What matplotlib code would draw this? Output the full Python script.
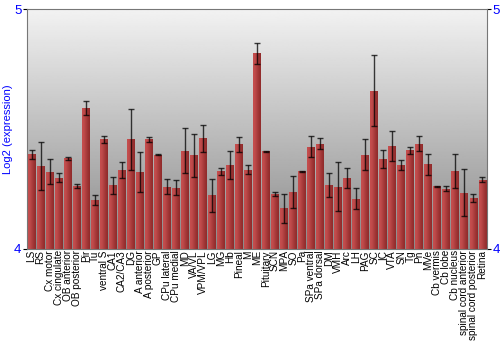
import matplotlib
matplotlib.use("Agg")
import matplotlib.pyplot as plt
import numpy as np

regions = [
    "LS", "RS", "Cx motor", "Cx cingulate", "OB anterior", "OB posterior",
    "Pir", "Tu", "ventral S", "CA1", "CA2/CA3", "DG", "A anterior",
    "A posterior", "GP", "CPu lateral", "CPu medial", "MD", "VA/VL",
    "VPM/VPL", "LG", "MG", "Hb", "Pineal", "M", "ME", "Pituitary", "SCN",
    "MPA", "SO", "Pa", "SPa ventral", "SPa dorsal", "DM", "VMH", "Arc", "LH",
    "PAG", "SC", "IC", "VTA", "SN", "Tg", "Pn", "MVe", "Cb vermis", "Cb lobe",
    "Cb nucleus", "spinal cord anterior", "spinal cord posterior", "Retina",
]
expression = [
    4.395, 4.345, 4.323, 4.298, 4.378, 4.262,
    4.589, 4.204, 4.457, 4.266, 4.330, 4.457, 4.320,
    4.457, 4.393, 4.260, 4.256, 4.410, 4.390,
    4.461, 4.224, 4.324, 4.350, 4.436, 4.330, 4.817, 4.407, 4.229,
    4.169, 4.238, 4.325, 4.427, 4.440, 4.265, 4.259, 4.295, 4.210,
    4.393, 4.661, 4.374, 4.431, 4.350, 4.411, 4.440, 4.353, 4.262, 4.251,
    4.324, 4.235, 4.212, 4.289,
]
errors = [
    0.018, 0.100, 0.054, 0.020, 0.006, 0.008,
    0.030, 0.020, 0.016, 0.035, 0.032, 0.126, 0.083,
    0.009, 0.002, 0.032, 0.033, 0.094, 0.091,
    0.055, 0.068, 0.014, 0.058, 0.030, 0.019, 0.044, 0.003, 0.008,
    0.062, 0.067, 0.002, 0.043, 0.023, 0.050, 0.102, 0.041, 0.044,
    0.065, 0.147, 0.037, 0.062, 0.020, 0.016, 0.032, 0.045, 0.002, 0.010,
    0.071, 0.098, 0.017, 0.010,
]
y_min, y_max = 4, 5

fig = plt.figure(figsize=(5, 3.5), dpi=100)
ax = fig.add_axes([0.054, 0.289, 0.92, 0.684])

x = np.arange(len(regions))
ax.set_xlim(-0.5, len(regions) - 0.5)
ax.set_ylim(y_min, y_max)

# grey vertical gradient behind the bars
bg = np.linspace(0.54, 0.95, 256).reshape(-1, 1)
ax.imshow(bg, cmap="gray", vmin=0, vmax=1, aspect="auto", origin="lower",
          extent=(-0.5, len(regions) - 0.5, y_min, y_max), zorder=0)

bars = ax.bar(x, np.array(expression) - y_min, bottom=y_min, width=0.88,
              color="#a83030", linewidth=0, zorder=1)

# horizontal red shading inside each bar
shade = np.array([[0.85, 0.82, 0.72, 0.62, 0.52, 0.43, 0.35]])
red_cmap = matplotlib.colors.LinearSegmentedColormap.from_list(
    "bar", ["#6e1414", "#d45858"])
for b in bars:
    bx, by = b.get_x(), b.get_y()
    im = ax.imshow(shade, cmap=red_cmap, vmin=0, vmax=1, aspect="auto",
                   extent=(bx, bx + b.get_width(), by, by + b.get_height()),
                   zorder=2, interpolation="bicubic")
    im.set_clip_path(b)

ax.errorbar(x, expression, yerr=errors, fmt="none", ecolor="black",
            elinewidth=1.0, capsize=2, capthick=1.0, alpha=0.75, zorder=3)

ax.set_xticks(x)
ax.set_xticklabels(regions, rotation=90, fontsize=7.2,
                   family="Liberation Sans")
ax.tick_params(axis="x", length=0, pad=1)

ax.set_yticks([4, 5])
ax.tick_params(axis="y", which="both", left=True, right=True,
               labelleft=True, labelright=True, length=3, width=0.8,
               pad=1, labelsize=9.5, labelcolor="blue", direction="out")
for lbl in ax.get_yticklabels():
    lbl.set_family("Liberation Sans")

ax.set_ylabel("Log2 (expression)", color="blue", fontsize=8,
              family="Liberation Sans", labelpad=1)

for side in ["left", "right", "top", "bottom"]:
    ax.spines[side].set_color("#777777")
    ax.spines[side].set_linewidth(0.8)

fig.savefig("out.png", dpi=100)
